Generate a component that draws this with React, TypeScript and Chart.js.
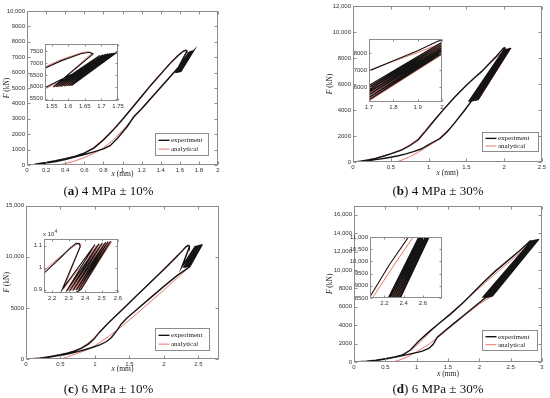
import { useEffect, useRef } from 'react';
import { Chart, registerables } from 'chart.js';

Chart.register(...registerables);

type Pt = [number, number];

// ---------- (a) 4 MPa ± 10% ----------
const A_EXPERIMENT: Pt[] = [
  [0.08, 60], [0.2, 170], [0.3, 280], [0.4, 410], [0.5, 560], [0.6, 770], [0.7, 1100], [0.8, 1620], [0.9, 2250],
  [1.0, 2950], [1.1, 3700], [1.2, 4450], [1.3, 5200], [1.4, 5900], [1.5, 6600], [1.58, 7100], [1.64, 7400],
  [1.665, 7450], [1.675, 7380],
  [1.555, 5990], [1.695, 7320], [1.563, 5995], [1.705, 7350], [1.571, 6005], [1.713, 7370], [1.579, 6015], [1.72, 7390],
  [1.587, 6025], [1.727, 7400], [1.595, 6035], [1.733, 7410], [1.603, 6045], [1.739, 7420], [1.61, 6055], [1.745, 7430],
  [1.7, 7150], [1.6, 6450], [1.5, 5750], [1.4, 5050], [1.3, 4350], [1.2, 3650], [1.12, 3150], [1.05, 2500],
  [0.95, 1750], [0.87, 1250], [0.8, 1050], [0.7, 850], [0.6, 680], [0.5, 510], [0.4, 360], [0.3, 230], [0.2, 120], [0.1, 40],
];
const A_ANALYTICAL: Pt[] = [
  [0.05, 0], [0.2, 150], [0.3, 260], [0.4, 400], [0.5, 560], [0.6, 790], [0.7, 1150], [0.8, 1680], [0.9, 2300],
  [1.0, 3000], [1.1, 3750], [1.2, 4500], [1.3, 5250], [1.4, 5950], [1.5, 6650], [1.58, 7150], [1.645, 7450],
  [1.66, 7470], [1.67, 7400],
  [1.559, 6005], [1.7, 7310], [1.567, 6005], [1.709, 7345], [1.575, 6015], [1.716, 7365], [1.583, 6025], [1.723, 7385],
  [1.591, 6035], [1.73, 7395], [1.599, 6045], [1.736, 7405], [1.606, 6055], [1.742, 7415],
  [1.6, 6400], [1.5, 5700], [1.4, 5000], [1.3, 4300], [1.2, 3600], [1.1, 2950], [1.0, 2250], [0.9, 1600],
  [0.8, 1100], [0.7, 750], [0.6, 480], [0.5, 260], [0.4, 90], [0.33, 0],
];
const A_X_TICKS = [0, 0.2, 0.4, 0.6, 0.8, 1, 1.2, 1.4, 1.6, 1.8, 2];
const A_Y_TICKS = [0, 1000, 2000, 3000, 4000, 5000, 6000, 7000, 8000, 9000, 10000];
const A_INSET_X_TICKS = [1.55, 1.6, 1.65, 1.7, 1.75];
const A_INSET_Y_TICKS = [5500, 6000, 6500, 7000, 7500];

// ---------- (b) 4 MPa ± 30% ----------
const B_EXPERIMENT: Pt[] = [
  [0.02, 0], [0.1, 60], [0.2, 150], [0.3, 280], [0.42, 480], [0.5, 620], [0.64, 920], [0.75, 1250], [0.86, 1690],
  [0.95, 2300], [1.08, 3230], [1.2, 4050], [1.35, 5020], [1.5, 5900], [1.6, 6450], [1.7, 6950], [1.8, 7550],
  [1.9, 8150], [1.98, 8700], [2.0, 8800], [2.01, 8750],
  [1.53, 4640], [1.995, 8620], [1.55, 4650], [2.01, 8650], [1.57, 4670], [2.025, 8680], [1.59, 4690], [2.04, 8700],
  [1.61, 4710], [2.055, 8720], [1.63, 4730], [2.07, 8745], [1.65, 4760], [2.085, 8770],
  [1.9, 7350], [1.8, 6550], [1.7, 5750], [1.6, 4950], [1.48, 4000], [1.35, 3050], [1.25, 2350], [1.15, 1800],
  [1.05, 1500], [0.99, 1300], [0.9, 1000], [0.8, 800], [0.7, 630], [0.6, 480], [0.5, 370], [0.4, 270], [0.3, 180],
  [0.2, 100], [0.1, 40], [0.02, 0],
];
const B_ANALYTICAL: Pt[] = [
  [0, 0], [0.1, 70], [0.2, 170], [0.3, 300], [0.42, 500], [0.5, 650], [0.64, 960], [0.75, 1320], [0.86, 1780],
  [0.95, 2400], [1.08, 3300], [1.2, 4100], [1.35, 5050], [1.5, 5920], [1.6, 6460], [1.7, 6980], [1.8, 7520],
  [1.9, 8050], [2.0, 8600], [2.02, 8650], [2.025, 8600],
  [1.54, 4690], [2.0, 8600], [1.56, 4700], [2.017, 8640], [1.58, 4720], [2.032, 8670], [1.6, 4740], [2.047, 8690],
  [1.62, 4760], [2.062, 8710], [1.64, 4780], [2.077, 8735], [1.66, 4800], [2.09, 8750],
  [1.9, 7400], [1.7, 5800], [1.5, 4200], [1.3, 2700], [1.1, 1600], [0.95, 1050], [0.85, 700], [0.75, 400],
  [0.65, 150], [0.57, 0],
];
const B_X_TICKS = [0, 0.5, 1, 1.5, 2, 2.5];
const B_Y_TICKS = [0, 2000, 4000, 6000, 8000, 10000, 12000];
const B_INSET_X_TICKS = [1.7, 1.8, 1.9, 2];
const B_INSET_Y_TICKS = [6000, 7000, 8000];

// ---------- (c) 6 MPa ± 10% ----------
const C_EXPERIMENT: Pt[] = [
  [0.05, 0], [0.2, 90], [0.3, 180], [0.4, 290], [0.5, 420], [0.6, 570], [0.7, 760], [0.8, 1030], [0.9, 1430],
  [0.98, 1900], [1.07, 2650], [1.17, 3350], [1.27, 4000], [1.4, 4850], [1.6, 6150], [1.8, 7450], [2.0, 8750],
  [2.15, 9750], [2.25, 10450], [2.31, 10900], [2.345, 11100], [2.365, 11080], [2.37, 10950],
  [2.26, 9000], [2.46, 11050], [2.285, 8920], [2.485, 11090], [2.305, 8940], [2.505, 11120], [2.325, 8960], [2.525, 11150],
  [2.345, 8980], [2.54, 11180], [2.36, 9000], [2.555, 11200], [2.375, 9020],
  [2.2, 8200], [2.0, 7100], [1.8, 5950], [1.6, 4800], [1.46, 3990], [1.38, 3400], [1.315, 2750], [1.24, 2100],
  [1.17, 1710], [1.07, 1390], [0.95, 1100], [0.85, 900], [0.75, 720], [0.65, 560], [0.55, 420], [0.45, 300],
  [0.35, 190], [0.25, 100], [0.15, 40], [0.08, 10],
];
const C_ANALYTICAL: Pt[] = [
  [0, 0], [0.2, 110], [0.3, 200], [0.4, 310], [0.5, 440], [0.6, 600], [0.7, 800], [0.8, 1100], [0.9, 1550],
  [1.0, 2150], [1.1, 2900], [1.2, 3600], [1.3, 4250], [1.5, 5550], [1.7, 6850], [1.9, 8150], [2.1, 9500],
  [2.2, 10200], [2.3, 10800], [2.36, 11120], [2.375, 11050],
  [2.27, 9050], [2.47, 11000], [2.295, 8950], [2.495, 11060], [2.315, 8970], [2.515, 11100], [2.335, 8990],
  [2.533, 11130], [2.352, 9000], [2.548, 11160], [2.367, 9020], [2.56, 11180], [2.38, 9040],
  [2.2, 7950], [2.0, 6750], [1.8, 5550], [1.6, 4400], [1.4, 3250], [1.2, 2200], [1.0, 1300], [0.85, 800],
  [0.7, 450], [0.6, 200], [0.5, 0],
];
const C_X_TICKS = [0, 0.5, 1, 1.5, 2, 2.5];
const C_Y_TICKS = [0, 5000, 10000, 15000];
const C_INSET_X_TICKS = [2.2, 2.3, 2.4, 2.5, 2.6];
const C_INSET_Y_TICKS = [9000, 10000, 11000];

// ---------- (d) 6 MPa ± 30% ----------
const D_EXPERIMENT: Pt[] = [
  [0, 0], [0.2, 80], [0.35, 200], [0.5, 370], [0.65, 550], [0.76, 730], [0.9, 1300], [1.03, 2250], [1.2, 3300],
  [1.35, 4150], [1.53, 5150], [1.75, 6500], [2.05, 8550], [2.25, 9850], [2.46, 11050], [2.65, 12150],
  [2.78, 12950], [2.81, 13150], [2.83, 13150], [2.835, 13000],
  [2.05, 7000], [2.83, 13150], [2.075, 7020], [2.85, 13200], [2.1, 7050], [2.87, 13240], [2.125, 7080],
  [2.89, 13270], [2.15, 7110], [2.91, 13300], [2.175, 7150], [2.93, 13330], [2.2, 7190], [2.95, 13360], [2.21, 7200],
  [2.1, 7000], [1.9, 5900], [1.75, 5060], [1.6, 4230], [1.45, 3400], [1.33, 2700], [1.26, 1900], [1.2, 1500],
  [1.1, 1200], [1.03, 1080], [0.9, 880], [0.8, 720], [0.7, 580], [0.6, 450], [0.5, 330], [0.4, 220], [0.3, 130],
  [0.2, 60], [0.1, 15], [0.02, 0],
];
const D_ANALYTICAL: Pt[] = [
  [0, 0], [0.2, 60], [0.35, 170], [0.5, 330], [0.65, 520], [0.8, 800], [0.95, 1500], [1.1, 2450], [1.25, 3500],
  [1.4, 4450], [1.6, 5650], [1.8, 6850], [2.1, 8650], [2.3, 9850], [2.5, 11000], [2.65, 11900], [2.78, 12800],
  [2.82, 13050], [2.83, 12900],
  [2.06, 7010], [2.84, 13120], [2.088, 7035], [2.86, 13220], [2.113, 7065], [2.88, 13255], [2.138, 7095],
  [2.9, 13285], [2.163, 7130], [2.92, 13315], [2.188, 7170], [2.94, 13345], [2.21, 7200],
  [2.0, 6300], [1.8, 5250], [1.6, 4150], [1.4, 3000], [1.2, 1950], [1.0, 1100], [0.85, 550], [0.7, 150], [0.6, 0],
];
const D_X_TICKS = [0, 0.5, 1, 1.5, 2, 2.5, 3];
const D_Y_TICKS = [0, 2000, 4000, 6000, 8000, 10000, 12000, 14000, 16000];
const D_INSET_X_TICKS = [2.2, 2.4, 2.6];
const D_INSET_Y_TICKS = [8500, 9000, 9500, 10000, 10500, 11000];

const SERIES_LABELS = ['experiment', 'analytical'];
const CAPTIONS: [string, string][] = [
  ['a', ' 4 MPa ± 10%'],
  ['b', ' 4 MPa ± 30%'],
  ['c', ' 6 MPa ± 10%'],
  ['d', ' 6 MPa ± 30%'],
];

// ---------- styling ----------
const EXP_COLOR = '#141414';
const ANA_COLOR = 'rgb(232,118,108)';
const BOX_COLOR = '#8c8c8c';
const TICK_TEXT = '#333333';
const SANS = '"Liberation Sans", Arial, sans-serif';
const SERIF = '"Liberation Serif", "Times New Roman", serif';

type Fmt = (v: number) => string;
const withComma: Fmt = (v) => (v >= 10000 ? v.toLocaleString('en-US') : String(v));
const plain: Fmt = (v) => String(v);
const perE4: Fmt = (v) => String(Math.round(v / 1000) / 10);

interface Rect { l: number; t: number; r: number; b: number }
interface AxisSpec { min: number; max: number; ticks: number[]; fmt: Fmt }
interface Spec {
  key: string;
  area: Rect;
  margin: Rect;
  yW: number;
  xH: number;
  x: AxisSpec;
  y: AxisSpec;
  exp: Pt[];
  ana: Pt[];
  expW: number;
  tickLen: number;
  fillArea?: boolean;
  xTitleDy?: number;
  yTitleDx?: number;
  legend?: { dx: number; dy: number; w: number; h: number };
  note?: boolean;
}

function drawMixed(ctx: CanvasRenderingContext2D, parts: [string, boolean][], cx: number, cy: number, size: number) {
  const fonts = parts.map(([, it]) => `${it ? 'italic ' : ''}${size}px ${SERIF}`);
  const widths = parts.map(([t], i) => {
    ctx.font = fonts[i];
    return ctx.measureText(t).width;
  });
  let x = cx - widths.reduce((s, w) => s + w, 0) / 2;
  ctx.textAlign = 'left';
  ctx.textBaseline = 'middle';
  parts.forEach(([t], i) => {
    ctx.font = fonts[i];
    ctx.fillText(t, x, cy);
    x += widths[i];
  });
}

function makeFrame(spec: Spec) {
  return {
    id: 'frame_' + spec.key,
    beforeDraw(chart: any) {
      if (!spec.fillArea) return;
      const { ctx, chartArea: a } = chart;
      ctx.save();
      ctx.fillStyle = '#ffffff';
      ctx.fillRect(a.left, a.top, a.right - a.left, a.bottom - a.top);
      ctx.restore();
    },
    afterDatasetsDraw(chart: any) {
      const { ctx, chartArea: a } = chart;
      const xs = chart.scales.x;
      const ys = chart.scales.y;
      const L = spec.tickLen;
      ctx.save();
      ctx.strokeStyle = BOX_COLOR;
      ctx.lineWidth = 1;
      const l = Math.round(a.left) + 0.5, r = Math.round(a.right) - 0.5;
      const t = Math.round(a.top) + 0.5, b = Math.round(a.bottom) - 0.5;
      ctx.strokeRect(l, t, r - l, b - t);
      ctx.beginPath();
      spec.x.ticks.forEach((v) => {
        const p = Math.round(xs.getPixelForValue(v)) + 0.5;
        ctx.moveTo(p, b); ctx.lineTo(p, b - L);
        ctx.moveTo(p, t); ctx.lineTo(p, t + L);
      });
      spec.y.ticks.forEach((v) => {
        const p = Math.round(ys.getPixelForValue(v)) + 0.5;
        ctx.moveTo(l, p); ctx.lineTo(l + L, p);
        ctx.moveTo(r, p); ctx.lineTo(r - L, p);
      });
      ctx.stroke();
      ctx.restore();
    },
    afterDraw(chart: any) {
      const { ctx, chartArea: a } = chart;
      ctx.save();
      ctx.fillStyle = '#1a1a1a';
      if (spec.xTitleDy !== undefined) {
        drawMixed(ctx, [['x', true], [' (mm)', false]], (a.left + a.right) / 2, a.bottom + spec.xTitleDy, 7.5);
      }
      if (spec.yTitleDx !== undefined) {
        ctx.save();
        ctx.translate(a.left - spec.yTitleDx, (a.top + a.bottom) / 2);
        ctx.rotate(-Math.PI / 2);
        drawMixed(ctx, [['F', true], [' (kN)', false]], 0, 0, 7.5);
        ctx.restore();
      }
      if (spec.note) {
        ctx.fillStyle = TICK_TEXT;
        ctx.textAlign = 'left';
        ctx.textBaseline = 'alphabetic';
        ctx.font = `6px ${SANS}`;
        const base = 'x 10';
        const x0 = a.left - 1;
        const y0 = a.top - 3;
        ctx.fillText(base, x0, y0);
        const w = ctx.measureText(base).width;
        ctx.font = `4.5px ${SANS}`;
        ctx.fillText('4', x0 + w + 0.5, y0 - 3);
      }
      if (spec.legend) {
        const g = spec.legend;
        const x0 = Math.round(a.right - g.dx - g.w) + 0.5;
        const y0 = Math.round(a.bottom - g.dy - g.h) + 0.5;
        ctx.fillStyle = '#ffffff';
        ctx.fillRect(x0, y0, g.w, g.h);
        ctx.strokeStyle = BOX_COLOR;
        ctx.lineWidth = 1;
        ctx.strokeRect(x0, y0, g.w, g.h);
        chart.data.datasets.forEach((ds: any, i: number) => {
          const yy = y0 + g.h * (i === 0 ? 0.31 : 0.71);
          ctx.strokeStyle = ds.borderColor;
          ctx.lineWidth = ds.borderWidth;
          ctx.beginPath();
          ctx.moveTo(x0 + 3, yy);
          ctx.lineTo(x0 + 14, yy);
          ctx.stroke();
          ctx.fillStyle = '#222222';
          ctx.font = `7px ${SERIF}`;
          ctx.textAlign = 'left';
          ctx.textBaseline = 'middle';
          ctx.fillText(ds.label, x0 + 15.5, yy);
        });
      }
      ctx.restore();
    },
  };
}

function canvasBox(s: Spec) {
  return {
    left: s.area.l - s.margin.l,
    top: s.area.t - s.margin.t,
    w: s.area.r - s.area.l + s.margin.l + s.margin.r,
    h: s.area.b - s.area.t + s.margin.t + s.margin.b,
  };
}

function axisOptions(ax: AxisSpec, isX: boolean, size: number) {
  return {
    type: 'linear',
    min: ax.min,
    max: ax.max,
    afterBuildTicks: (scale: any) => {
      scale.ticks = ax.ticks.map((v) => ({ value: v }));
    },
    afterFit: (scale: any) => {
      if (isX) scale.height = size;
      else scale.width = size;
    },
    grid: { display: false, drawTicks: false },
    border: { display: false },
    ticks: {
      autoSkip: false,
      maxRotation: 0,
      minRotation: 0,
      padding: isX ? 1.5 : 2,
      color: TICK_TEXT,
      font: { family: SANS, size: 6 },
      callback: (v: any) => ax.fmt(Number(v)),
    },
  };
}

function buildConfig(s: Spec): any {
  const toXY = (pts: Pt[]) => pts.map(([x, y]) => ({ x, y }));
  return {
    type: 'scatter',
    data: {
      datasets: [
        { label: SERIES_LABELS[0], data: toXY(s.exp), showLine: true, borderColor: EXP_COLOR, backgroundColor: EXP_COLOR, borderWidth: s.expW, pointRadius: 0, tension: 0 },
        { label: SERIES_LABELS[1], data: toXY(s.ana), showLine: true, borderColor: ANA_COLOR, backgroundColor: ANA_COLOR, borderWidth: 1, pointRadius: 0, tension: 0 },
      ],
    },
    options: {
      animation: false,
      responsive: false,
      devicePixelRatio: 1,
      events: [],
      layout: {
        padding: {
          left: s.margin.l - s.yW,
          top: s.margin.t,
          right: s.margin.r,
          bottom: s.margin.b - s.xH,
        },
      },
      plugins: { legend: { display: false }, tooltip: { enabled: false }, title: { display: false } },
      scales: {
        x: axisOptions(s.x, true, s.xH),
        y: axisOptions(s.y, false, s.yW),
      },
    },
    plugins: [makeFrame(s)],
  };
}

function Plot({ spec }: { spec: Spec }) {
  const ref = useRef<HTMLCanvasElement | null>(null);
  const box = canvasBox(spec);
  useEffect(() => {
    if (!ref.current) return;
    const chart = new Chart(ref.current, buildConfig(spec));
    return () => chart.destroy();
  }, []);
  return (
    <canvas
      ref={ref}
      width={box.w}
      height={box.h}
      style={{ position: 'absolute', left: box.left, top: box.top, width: box.w, height: box.h }}
    />
  );
}

const MAIN_SPECS: Spec[] = [
  {
    key: 'a', area: { l: 27, t: 11, r: 218, b: 165 }, margin: { l: 27, t: 11, r: 57, b: 35 }, yW: 27, xH: 14,
    x: { min: 0, max: 2, ticks: A_X_TICKS, fmt: plain }, y: { min: 0, max: 10000, ticks: A_Y_TICKS, fmt: withComma },
    exp: A_EXPERIMENT, ana: A_ANALYTICAL, expW: 1.4, tickLen: 3, xTitleDy: 9, yTitleDx: 19.7,
    legend: { dx: 10, dy: 10, w: 53, h: 22 },
  },
  {
    key: 'b', area: { l: 353, t: 6, r: 542, b: 162 }, margin: { l: 78, t: 6, r: 8, b: 38 }, yW: 27, xH: 16,
    x: { min: 0, max: 2.5, ticks: B_X_TICKS, fmt: plain }, y: { min: 0, max: 12000, ticks: B_Y_TICKS, fmt: withComma },
    exp: B_EXPERIMENT, ana: B_ANALYTICAL, expW: 1.4, tickLen: 3, xTitleDy: 11.3, yTitleDx: 23,
    legend: { dx: 4, dy: 11, w: 56, h: 19 },
  },
  {
    key: 'c', area: { l: 26, t: 205, r: 219, b: 359 }, margin: { l: 26, t: 5, r: 56, b: 39 }, yW: 26, xH: 16,
    x: { min: 0, max: 2.8, ticks: C_X_TICKS, fmt: plain }, y: { min: 0, max: 15000, ticks: C_Y_TICKS, fmt: withComma },
    exp: C_EXPERIMENT, ana: C_ANALYTICAL, expW: 1.4, tickLen: 3, xTitleDy: 10, yTitleDx: 19.3,
    legend: { dx: 10, dy: 9, w: 54, h: 22 },
  },
  {
    key: 'd', area: { l: 354, t: 205, r: 542, b: 362 }, margin: { l: 79, t: 5, r: 8, b: 36 }, yW: 28, xH: 16,
    x: { min: 0, max: 3, ticks: D_X_TICKS, fmt: plain }, y: { min: 0, max: 17000, ticks: D_Y_TICKS, fmt: withComma },
    exp: D_EXPERIMENT, ana: D_ANALYTICAL, expW: 1.4, tickLen: 3, xTitleDy: 11.6, yTitleDx: 24,
    legend: { dx: 5, dy: 12, w: 55, h: 20 },
  },
];

const INSET_SPECS: Spec[] = [
  {
    key: 'ai', area: { l: 45, t: 44, r: 118, b: 101 }, margin: { l: 20, t: 6, r: 8, b: 11 }, yW: 20, xH: 10,
    x: { min: 1.53, max: 1.75, ticks: A_INSET_X_TICKS, fmt: plain }, y: { min: 5400, max: 7800, ticks: A_INSET_Y_TICKS, fmt: withComma },
    exp: A_EXPERIMENT, ana: A_ANALYTICAL, expW: 1.1, tickLen: 2, fillArea: true,
  },
  {
    key: 'bi', area: { l: 369, t: 39, r: 442, b: 102 }, margin: { l: 20, t: 6, r: 8, b: 11 }, yW: 20, xH: 10,
    x: { min: 1.7, max: 2.0, ticks: B_INSET_X_TICKS, fmt: plain }, y: { min: 5100, max: 8850, ticks: B_INSET_Y_TICKS, fmt: withComma },
    exp: B_EXPERIMENT, ana: B_ANALYTICAL, expW: 1.1, tickLen: 2, fillArea: true,
  },
  {
    key: 'ci', area: { l: 44, t: 239, r: 118, b: 293 }, margin: { l: 16, t: 10, r: 8, b: 11 }, yW: 16, xH: 10,
    x: { min: 2.15, max: 2.6, ticks: C_INSET_X_TICKS, fmt: plain }, y: { min: 8850, max: 11300, ticks: C_INSET_Y_TICKS, fmt: perE4 },
    exp: C_EXPERIMENT, ana: C_ANALYTICAL, expW: 1.1, tickLen: 2, fillArea: true, note: true,
  },
  {
    key: 'di', area: { l: 370, t: 237, r: 442, b: 298 }, margin: { l: 24, t: 6, r: 8, b: 11 }, yW: 24, xH: 10,
    x: { min: 2.05, max: 2.8, ticks: D_INSET_X_TICKS, fmt: plain }, y: { min: 8500, max: 11000, ticks: D_INSET_Y_TICKS, fmt: withComma },
    exp: D_EXPERIMENT, ana: D_ANALYTICAL, expW: 1.1, tickLen: 2, fillArea: true,
  },
];

const CAPTION_POS: [number, number][] = [
  [108.5, 190.5],
  [438, 190.5],
  [108.5, 388],
  [438, 388],
];

export default function App() {
  return (
    <div
      style={{
        position: 'absolute', left: 0, top: 0, width: 550, height: 398,
        background: '#ffffff', overflow: 'hidden',
      }}
    >
      {MAIN_SPECS.map((s) => (
        <Plot key={s.key} spec={s} />
      ))}
      {INSET_SPECS.map((s) => (
        <Plot key={s.key} spec={s} />
      ))}
      {CAPTIONS.map(([letter, rest], i) => (
        <div
          key={letter}
          style={{
            position: 'absolute',
            left: CAPTION_POS[i][0],
            top: CAPTION_POS[i][1] - 7.5,
            transform: 'translateX(-50%)',
            whiteSpace: 'nowrap',
            font: `13px ${SERIF}`,
            lineHeight: '15px',
            color: '#111111',
          }}
        >
          (<b>{letter}</b>){rest}
        </div>
      ))}
    </div>
  );
}
